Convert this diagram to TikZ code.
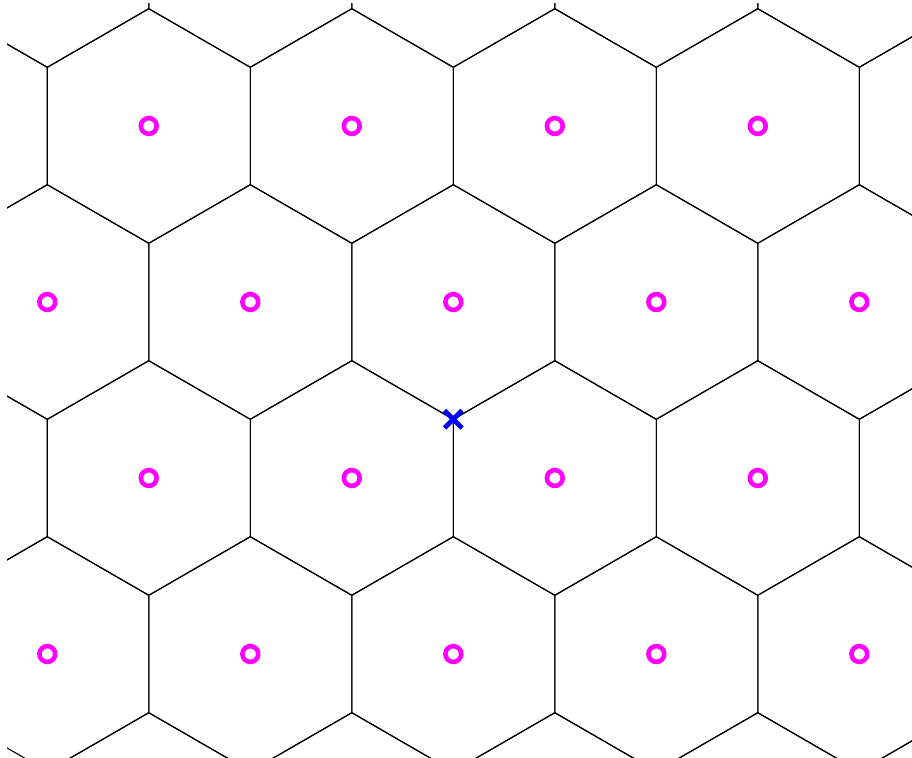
\documentclass[tikz,border=0pt]{standalone}
\definecolor{sitecol}{RGB}{255,0,255}
\definecolor{crosscol}{RGB}{0,0,255}
\begin{document}
\begin{tikzpicture}[x=1pt,y={(0pt,-1pt)},
  edge/.style={draw=black,line width=1.1pt,line join=miter},
  site/.style={draw=sitecol,line width=4.6pt},
  cross/.style={draw=crosscol,line width=4.8pt}]
\useasboundingbox (0,0) rectangle (912,757);
\begin{scope}
\clip (7,4) rectangle (912,757);
\foreach \r in {-2,...,3}{
  \foreach \c in {-3,...,3}{
    \pgfmathsetmacro\cx{453.3+(\c+0.5*\r)*203}
    \pgfmathsetmacro\cy{302+\r*176}
    \draw[edge] (\cx,\cy) +(30:117.2) -- +(90:117.2) -- +(150:117.2) -- +(210:117.2) -- +(270:117.2) -- +(330:117.2) -- cycle;
  }
}
\end{scope}
\foreach \x/\y [count=\i] in {148.8/126,351.8/126,554.8/126,757.8/126,
  47.3/302,250.3/302,453.3/302,656.3/302,859.3/302,
  148.8/478,351.8/478,554.8/478,757.8/478,
  47.3/654,250.3/654,453.3/654,656.3/654,859.3/654}{
  \coordinate (s\i) at (\x,\y);
  \draw[site] (s\i) circle[radius=7.9pt];
}
\coordinate (v) at (453.3,419.2);
\draw[cross] ([shift={(-8.8,-8.8)}]v) -- ([shift={(8.8,8.8)}]v);
\draw[cross] ([shift={(-8.8,8.8)}]v) -- ([shift={(8.8,-8.8)}]v);
\end{tikzpicture}
\end{document}
